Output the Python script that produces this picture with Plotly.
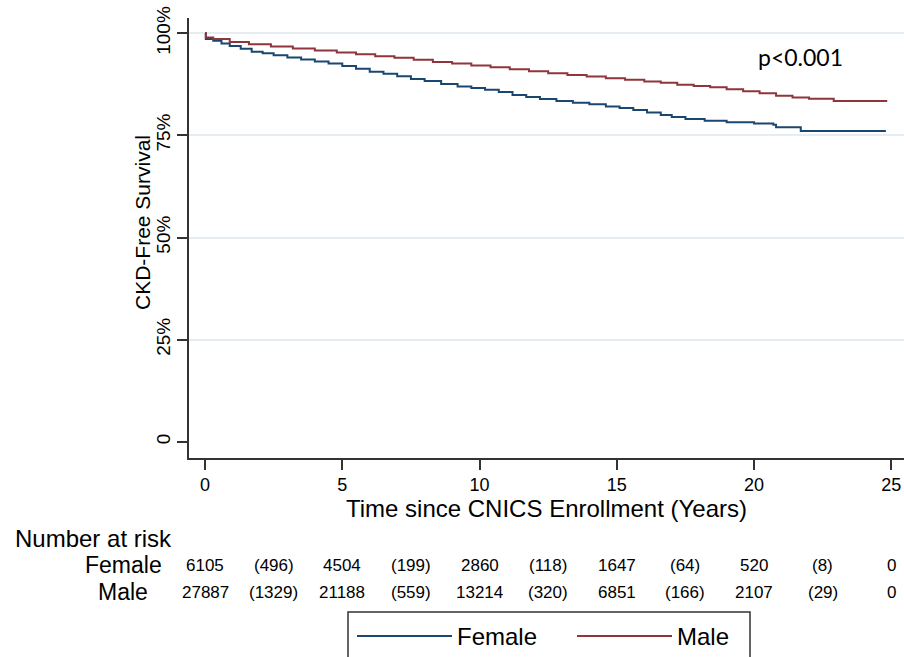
import plotly.graph_objects as go

# Kaplan-Meier estimates (percent CKD-free)
female_t = [0, 0.03, 0.3, 0.6, 0.9, 1.3, 1.7, 2.1, 2.5, 3.0, 3.5, 4.0, 4.5, 5.0, 5.5, 6.0,
            6.5, 7.0, 7.5, 8.0, 8.6, 9.2, 9.7, 10.2, 10.7, 11.2, 11.7, 12.2, 12.8, 13.4,
            14.0, 14.6, 15.1, 15.6, 16.1, 16.6, 17.0, 17.5, 18.2, 19.0, 20.0, 20.7, 20.8,
            21.7, 24.8]
female_s = [100, 98.6, 98.2, 97.5, 96.9, 96.2, 95.5, 95.1, 94.6, 94.1, 93.6, 93.1, 92.6,
            92.0, 91.3, 90.6, 90.1, 89.5, 88.8, 88.3, 87.6, 87.0, 86.6, 86.2, 85.6, 84.9,
            84.4, 83.9, 83.4, 83.0, 82.6, 82.1, 81.7, 81.2, 80.6, 80.0, 79.5, 79.0, 78.6,
            78.2, 77.9, 77.6, 77.0, 76.1, 76.1]

male_t = [0, 0.03, 0.3, 0.9, 1.6, 2.4, 3.2, 4.0, 4.8, 5.5, 6.2, 6.9, 7.6, 8.3, 9.0, 9.7,
          10.4, 11.1, 11.8, 12.5, 13.2, 13.9, 14.6, 15.3, 16.0, 16.6, 17.2, 17.8, 18.4,
          19.0, 19.6, 20.2, 20.8, 21.4, 22.0, 22.9, 24.85]
male_s = [100, 99.0, 98.6, 97.9, 97.3, 96.8, 96.3, 95.8, 95.3, 94.9, 94.4, 94.0, 93.5,
          93.0, 92.6, 92.1, 91.7, 91.2, 90.7, 90.2, 89.8, 89.4, 89.0, 88.6, 88.2, 87.9,
          87.4, 87.1, 86.8, 86.3, 85.8, 85.3, 84.7, 84.3, 84.0, 83.4, 83.4]

# Number at risk table
risk_times = [0, 2.5, 5, 7.5, 10, 12.5, 15, 17.5, 20, 22.5, 25]
female_risk = ["6105", "(496)", "4504", "(199)", "2860", "(118)", "1647", "(64)", "520", "(8)", "0"]
male_risk = ["27887", "(1329)", "21188", "(559)", "13214", "(320)", "6851", "(166)", "2107", "(29)", "0"]

y_tickvals = [0, 25, 50, 75, 100]
y_ticktext = ["0", "25%", "50%", "75%", "100%"]
x_tickvals = [0, 5, 10, 15, 20, 25]

NAVY = "#1a476f"
MAROON = "#90353b"
AXIS = "#333333"
FONT = "Liberation Sans, Arial, sans-serif"

fig = go.Figure()
# invisible trace anchoring the gridline axis
fig.add_trace(go.Scatter(x=[None], y=[None], yaxis="y2", showlegend=False, hoverinfo="skip"))
fig.add_trace(go.Scatter(x=female_t, y=female_s, mode="lines", line_shape="hv",
                         name="Female", line=dict(color=NAVY, width=2)))
fig.add_trace(go.Scatter(x=male_t, y=male_s, mode="lines", line_shape="hv",
                         name="Male", line=dict(color=MAROON, width=2)))

W, H = 904, 657
ml, mr, mt, mb = 189, 0, 18, 199
pw, ph = W - ml - mr, H - mt - mb


def py(pix_y):
    return (H - mb - pix_y) / ph


def px(pix_x):
    return (pix_x - ml) / pw


annotations = []
annotations.append(dict(text="CKD-Free Survival", xref="paper", yref="paper",
                        x=px(142), y=py(223), xanchor="center", yanchor="middle",
                        textangle=-90, showarrow=False,
                        font=dict(family=FONT, size=21, color="black")))
annotations.append(dict(text="Number at risk", xref="paper", yref="paper",
                        x=px(13), y=py(538), xanchor="left", yanchor="middle",
                        showarrow=False, font=dict(family=FONT, size=24, color="black")))
annotations.append(dict(text="Female", xref="paper", yref="paper",
                        x=px(123), y=py(565), xanchor="center", yanchor="middle",
                        showarrow=False, font=dict(family=FONT, size=23, color="black")))
annotations.append(dict(text="Male", xref="paper", yref="paper",
                        x=px(123), y=py(592), xanchor="center", yanchor="middle",
                        showarrow=False, font=dict(family=FONT, size=23, color="black")))
for t, f, m in zip(risk_times, female_risk, male_risk):
    annotations.append(dict(text=f, xref="x", yref="paper", x=t, y=py(565),
                            xanchor="center", yanchor="middle", showarrow=False,
                            font=dict(family=FONT, size=17, color="black")))
    annotations.append(dict(text=m, xref="x", yref="paper", x=t, y=py(592),
                            xanchor="center", yanchor="middle", showarrow=False,
                            font=dict(family=FONT, size=17, color="black")))
annotations.append(dict(text="p<0.001", xref="x", yref="y", x=21.7, y=94.3,
                        xanchor="center", yanchor="middle", showarrow=False,
                        font=dict(family="Lato, Open Sans, sans-serif", size=23, color="black")))

yr = [-3.99, 103.75]
fig.update_layout(
    width=W, height=H,
    margin=dict(l=ml, r=mr, t=mt, b=mb, pad=0, autoexpand=False),
    paper_bgcolor="white", plot_bgcolor="white",
    font=dict(family=FONT, color="black"),
    showlegend=True,
    legend=dict(orientation="h", x=px(352), xanchor="left", y=py(614), yanchor="top",
                borderwidth=0, font=dict(family=FONT, size=24, color="black"),
                itemwidth=95, entrywidth=110, bgcolor="rgba(0,0,0,0)"),
    shapes=[dict(type="rect", xref="paper", yref="paper", x0=px(348), x1=px(750),
                 y0=py(612), y1=py(690), line=dict(color=AXIS, width=1.5),
                 fillcolor="rgba(0,0,0,0)", layer="above")],
    xaxis=dict(range=[-0.583, 25.46], tickvals=x_tickvals, showgrid=False, zeroline=False,
               showline=True, linecolor=AXIS, linewidth=1.5, ticks="outside", ticklen=10,
               tickwidth=1.5, tickcolor=AXIS, tickfont=dict(family=FONT, size=18, color="black"),
               title=dict(text="Time since CNICS Enrollment (Years)", standoff=2,
                          font=dict(family=FONT, size=24, color="black"))),
    yaxis=dict(range=yr, tickvals=y_tickvals, ticktext=y_ticktext, tickangle=-90,
               showgrid=False, zeroline=False, showline=True, linecolor=AXIS, linewidth=1.5,
               ticks="outside", ticklen=10, tickwidth=1.5, tickcolor=AXIS,
               tickfont=dict(family=FONT, size=19, color="black")),
    yaxis2=dict(range=yr, overlaying="y", tickvals=[25, 50, 75, 100], showgrid=True,
                gridcolor="#e6edf2", gridwidth=1.5, showticklabels=False, ticks="",
                showline=False, zeroline=False, layer="below traces"),
    annotations=annotations,
)

fig.write_html("out.html", config={"displayModeBar": False},
               post_script="document.body.style.margin='0px';")
